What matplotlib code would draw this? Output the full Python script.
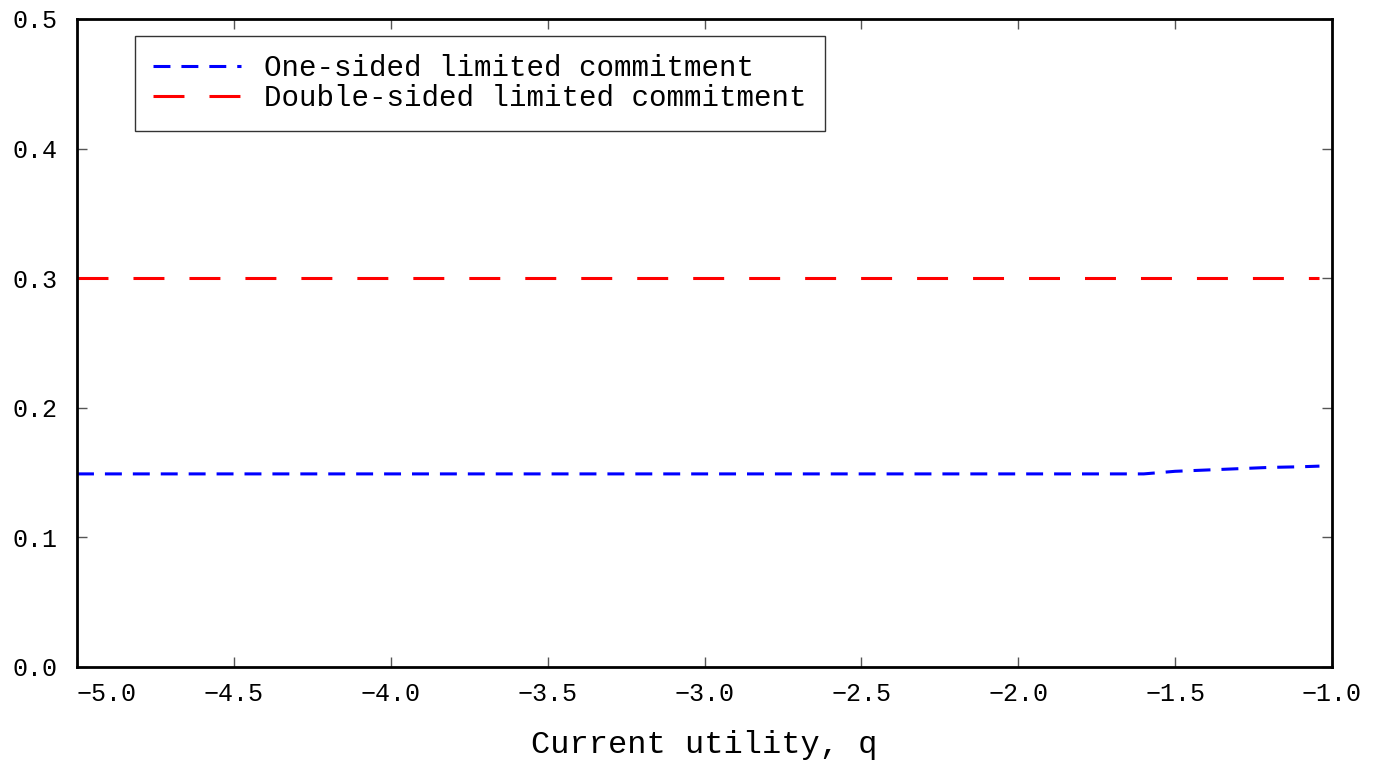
import numpy as np
import matplotlib
matplotlib.use("Agg")
import matplotlib.pyplot as plt

# Data
q_one = [-5.0, -1.70, -1.60, -1.50, -1.40, -1.30, -1.20, -1.10, -1.04]
v_one = [0.149, 0.149, 0.149, 0.151, 0.152, 0.153, 0.154, 0.1545, 0.155]
q_two = [-5.0, -1.04]
v_two = [0.300, 0.300]
xticks = [-5.0, -4.5, -4.0, -3.5, -3.0, -2.5, -2.0, -1.5, -1.0]
yticks = [0.0, 0.1, 0.2, 0.3, 0.4, 0.5]

plt.rcParams['font.family'] = ['Liberation Mono', 'DejaVu Sans']
plt.rcParams['lines.scale_dashes'] = False
plt.rcParams['axes.unicode_minus'] = True

fig = plt.figure(figsize=(13.75, 7.64), dpi=100)
ax = fig.add_axes([77/1375, 1 - 667/764, (1332-77)/1375, (667-19)/764])

ax.plot(q_one, v_one, color='#0000ff', lw=2.2, linestyle=(0, (12.2, 7.9)),
        label='One-sided limited commitment')
ax.plot(q_two, v_two, color='#ff0000', lw=2.2, linestyle=(0, (22.3, 18.0)),
        label='Double-sided limited commitment')

ax.set_xlim(-5.0, -1.0)
ax.set_ylim(0.0, 0.5)
ax.set_xticks(xticks)
ax.set_xticklabels(['\u2212%.1f' % abs(t) for t in xticks])
ax.set_yticks(yticks)
ax.set_yticklabels(['%.1f' % t for t in yticks])
ax.tick_params(direction='in', length=7, width=1, color='#555555',
               top=True, right=True, labelsize=18)
ax.tick_params(axis='x', pad=11)
ax.tick_params(axis='y', pad=14)
ax.get_xticklabels()[0].set_horizontalalignment('left')
for s in ax.spines.values():
    s.set_linewidth(2)
    s.set_color('black')

ax.set_xlabel('Current utility, q', fontsize=23, labelpad=17)

leg = ax.legend(loc='upper left', bbox_to_anchor=(58/1255, 1 - 17/648),
                borderaxespad=0, fontsize=21, frameon=True, fancybox=False,
                handlelength=3.0, borderpad=0.62, labelspacing=0.08,
                handletextpad=0.8)
leg.get_frame().set_edgecolor('black')
leg.get_frame().set_linewidth(1)

fig.savefig('out.png', dpi=100)
